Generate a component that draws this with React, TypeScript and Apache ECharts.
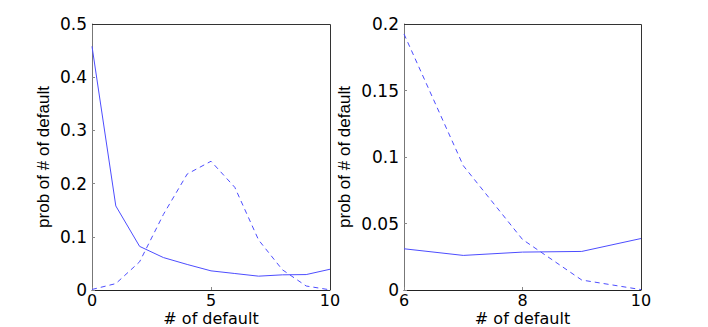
import React, { useEffect, useRef } from "react";
import * as echarts from "echarts";

const xLeft = [0, 1, 2, 3, 4, 5, 6, 7, 8, 9, 10];
const solidLeft = [0.458, 0.158, 0.082, 0.061, 0.048, 0.036, 0.031, 0.026, 0.0285, 0.029, 0.039];
const dashedLeft = [0.001, 0.012, 0.053, 0.142, 0.218, 0.242, 0.193, 0.094, 0.038, 0.0075, 0.0003];

const xRight = [6, 7, 8, 9, 10];
const solidRight = [0.031, 0.026, 0.0285, 0.029, 0.0387];
const dashedRight = [0.1925, 0.0935, 0.038, 0.0075, 0.0003];

const leftYTicks = { min: 0, max: 0.5, interval: 0.1 };
const rightYTicks = { min: 0, max: 0.2, interval: 0.05 };
const leftXTicks = { min: 0, max: 10, interval: 5 };
const rightXTicks = { min: 6, max: 10, interval: 2 };

const xName = "# of default";
const yName = "prob of # of default";

const LINE = "#4d4dff";
const HFONT = "DejaVu Sans";
const VFONT = "Liberation Sans";

const GRIDS = [
  { left: 92, top: 24, width: 238, height: 266 },
  { left: 404, top: 24, width: 237, height: 266 },
];

export default function App() {
  const ref = useRef<HTMLDivElement>(null);
  useEffect(() => {
    if (!ref.current) return;
    const chart = echarts.init(ref.current, null, { renderer: "svg" });
    const zip = (xs: number[], ys: number[]) => xs.map((x, i) => [x, ys[i]]);
    const tick = { show: true, inside: true, length: 3, lineStyle: { color: "#888", width: 1 } };
    const mainX = (idx: number, t: any) => ({
      type: "value",
      gridIndex: idx,
      ...t,
      position: "bottom",
      name: xName,
      nameLocation: "middle",
      nameGap: 20,
      nameMoveOverlap: false,
      nameTextStyle: { fontFamily: HFONT, fontSize: 16, color: "#000", lineHeight: 16 },
      axisLine: { show: true, onZero: false, lineStyle: { color: "#222", width: 1 } },
      axisTick: tick,
      axisLabel: { fontFamily: HFONT, fontSize: 16, color: "#000", margin: 3, lineHeight: 15 },
      splitLine: { show: false },
    });
    const mainY = (idx: number, t: any, gap: number) => ({
      type: "value",
      gridIndex: idx,
      ...t,
      position: "left",
      name: yName,
      nameLocation: "middle",
      nameGap: gap,
      nameMoveOverlap: false,
      nameTextStyle: { fontFamily: VFONT, fontSize: 17, color: "#000" },
      axisLine: { show: true, onZero: false, lineStyle: { color: "#777", width: 1 } },
      axisTick: tick,
      axisLabel: { fontFamily: HFONT, fontSize: 17, color: "#000", margin: 5 },
      splitLine: { show: false },
    });
    const lineSeries = (xi: number, yi: number, data: number[][], dashed: boolean) => ({
      type: "line",
      xAxisIndex: xi,
      yAxisIndex: yi,
      data,
      symbol: "none",
      lineStyle: { color: LINE, width: 1, type: dashed ? [5, 4] : "solid" },
      silent: true,
    });
    const frame: any[] = [];
    GRIDS.forEach((g) => {
      const r = g.left + g.width + 0.5;
      const t = g.top + 0.5;
      frame.push({
        type: "line",
        silent: true,
        z: 100,
        shape: { x1: g.left, y1: t, x2: r, y2: t },
        style: { stroke: "#333", lineWidth: 1 },
      });
      frame.push({
        type: "line",
        silent: true,
        z: 100,
        shape: { x1: r, y1: t, x2: r, y2: g.top + g.height },
        style: { stroke: "#333", lineWidth: 1 },
      });
    });
    chart.setOption({
      animation: false,
      backgroundColor: "#fff",
      grid: GRIDS.map((g) => ({ ...g, outerBoundsMode: "none", containLabel: false })),
      xAxis: [mainX(0, leftXTicks), mainX(1, rightXTicks)],
      yAxis: [mainY(0, leftYTicks, 40), mainY(1, rightYTicks, 51)],
      series: [
        lineSeries(0, 0, zip(xLeft, solidLeft), false),
        lineSeries(0, 0, zip(xLeft, dashedLeft), true),
        lineSeries(1, 1, zip(xRight, solidRight), false),
        lineSeries(1, 1, zip(xRight, dashedRight), true),
      ],
      graphic: frame,
    });
    return () => chart.dispose();
  }, []);
  return <div ref={ref} style={{ position: "absolute", left: 0, top: 0, width: 708, height: 327 }} />;
}
